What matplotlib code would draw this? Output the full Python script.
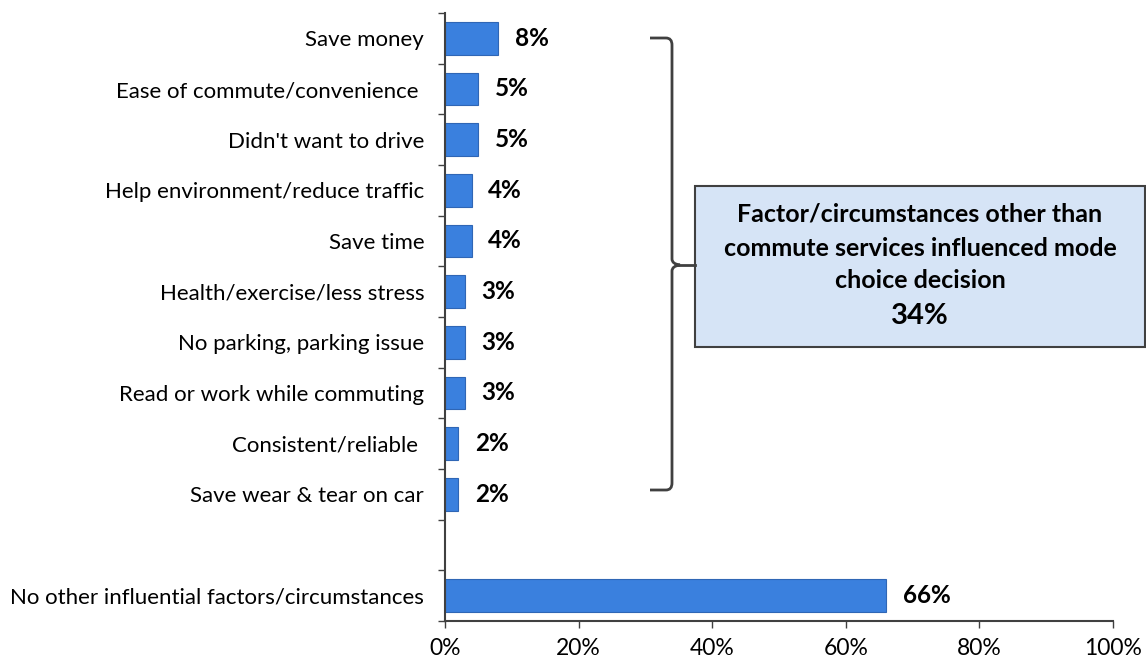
import matplotlib
matplotlib.use("Agg")
import matplotlib.pyplot as plt
from matplotlib.path import Path
from matplotlib.patches import PathPatch, Rectangle
import numpy as np

plt.rcParams['font.family'] = ['Lato', 'DejaVu Sans']

categories = ["Save money", "Ease of commute/convenience ", "Didn't want to drive",
              "Help environment/reduce traffic", "Save time", "Health/exercise/less stress",
              "No parking, parking issue", "Read or work while commuting", "Consistent/reliable ",
              "Save wear & tear on car", "", "No other influential factors/circumstances"]
values = [8, 5, 5, 4, 4, 3, 3, 3, 2, 2, None, 66]
xticks = [0, 20, 40, 60, 80, 100]
box_lines = ["Factor/circumstances other than", "commute services influenced mode", "choice decision"]
box_total = "34%"

W, H = 1146, 660
fig = plt.figure(figsize=(W / 100, H / 100), dpi=100)
ax = fig.add_axes([445 / W, 1 - 621 / H, (1113 - 445) / W, (621 - 13) / H])

pos = np.arange(len(categories))
for p, v in zip(pos, values):
    if v is None:
        continue
    ax.barh(p, v, height=0.65, color='#3A80DE', edgecolor='#2F66B5', linewidth=0.8)
    ax.annotate(f"{v}%", (v, p), xytext=(12, 0), textcoords='offset points',
                va='center', ha='left', fontsize=17.5, fontweight='bold', color='black')

ax.set_xlim(0, 100)
ax.set_ylim(len(categories) - 0.5, -0.5)
ax.set_xticks(xticks)
ax.set_xticklabels([f"{t}%" for t in xticks], fontsize=16.5)
ax.set_yticks(np.arange(-0.5, len(categories), 1.0))
ax.set_yticklabels([])
ax.set_yticks(pos, minor=True)
ax.set_yticklabels(categories, minor=True, fontsize=16)
ax.tick_params(axis='y', which='minor', length=0, pad=15)
ax.tick_params(axis='y', which='major', length=5, width=1, color='#404040', direction='out')
ax.tick_params(axis='x', length=5, width=1, color='#404040', pad=7)
for s in ['top', 'right']:
    ax.spines[s].set_visible(False)
for s in ['left', 'bottom']:
    ax.spines[s].set_color('#404040')
    ax.spines[s].set_linewidth(1.5)

# bracket in figure pixel coords
def F(x, y):
    return (x / W, 1 - y / H)

r = 7
verts = [F(650, 38), F(666, 38), F(672, 38), F(672, 38 + r), F(672, 259),
         F(672, 264), F(680, 265), F(672, 266), F(672, 271), F(672, 490 - r),
         F(672, 490), F(666, 490), F(650, 490)]
codes = [Path.MOVETO, Path.LINETO, Path.CURVE3, Path.CURVE3, Path.LINETO,
         Path.CURVE3, Path.CURVE3, Path.CURVE3, Path.CURVE3, Path.LINETO,
         Path.CURVE3, Path.CURVE3, Path.LINETO]
fig.add_artist(PathPatch(Path(verts, codes), fill=False, edgecolor='#404040',
                         linewidth=2.0, transform=fig.transFigure))
fig.add_artist(plt.Line2D([678 / W, 695 / W], [1 - 265 / H, 1 - 265 / H], color='#404040',
                          linewidth=2.0, transform=fig.transFigure))

x0, y0 = F(695, 347)
x1, y1 = F(1145, 186)
fig.add_artist(Rectangle((x0, y0), x1 - x0, y1 - y0, facecolor='#D6E4F6', edgecolor='#404040',
                         linewidth=1.5, transform=fig.transFigure))
cx = (695 + 1145) / 2
for i, (t, yy) in enumerate(zip(box_lines, [214, 248, 281])):
    fig.text(*F(cx, yy), t, ha='center', va='center', fontsize=18, fontweight='bold')
fig.text(*F(cx, 316), box_total, ha='center', va='center', fontsize=21, fontweight='bold')

fig.savefig("out.png", dpi=100)
